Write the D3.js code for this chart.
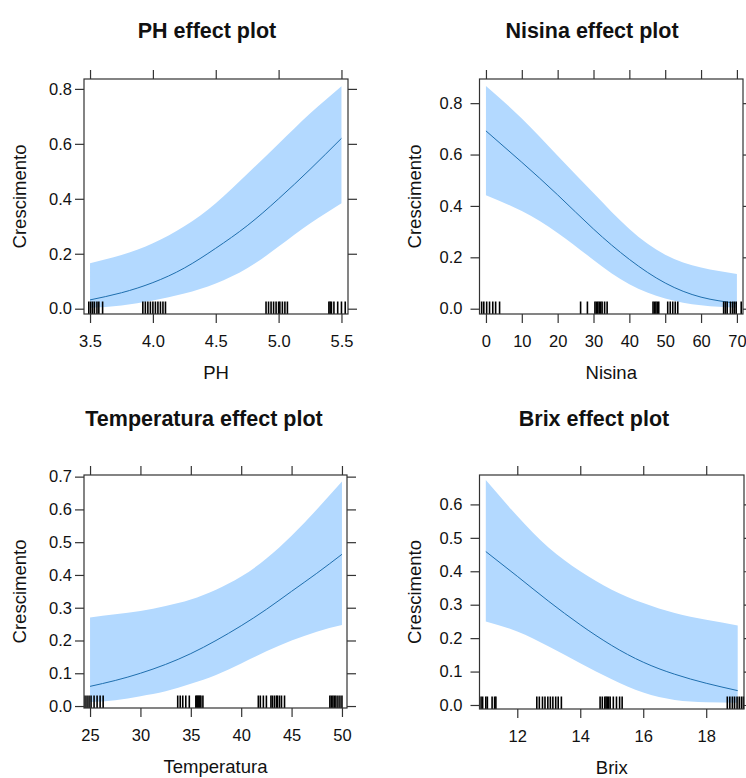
<!DOCTYPE html>
<html><head><meta charset="utf-8">
<script src="https://cdn.jsdelivr.net/npm/d3@7"></script>
<style>
body{margin:0;background:#fff}
svg{display:block}
text{font-family:Arial,"Liberation Sans",sans-serif;fill:#111}
</style>
</head><body>
<svg id="chart" width="746" height="778"></svg>
<script>
// ---------- data ----------
const phGrid  = [3.5, 3.75, 4.0, 4.25, 4.5, 4.75, 5.0, 5.25, 5.5];
const phFit   = [0.032, 0.058, 0.095, 0.148, 0.22, 0.302, 0.40, 0.507, 0.62];
const phUpper = [0.165, 0.195, 0.238, 0.30, 0.384, 0.49, 0.60, 0.71, 0.81];
const phLower = [0.003, 0.012, 0.03, 0.055, 0.092, 0.147, 0.226, 0.31, 0.384];
const phRug   = [3.49, 3.505, 3.52, 3.535, 3.555, 3.57, 3.60, 3.92, 3.94, 3.96, 3.98, 4.00, 4.02, 4.04, 4.06, 4.08, 4.10,
                 4.90, 4.92, 4.94, 4.96, 4.98, 5.00, 5.01, 5.03, 5.05, 5.07, 5.40, 5.41, 5.42, 5.44, 5.47, 5.50, 5.53];
const phXTicks = [3.5, 4.0, 4.5, 5.0, 5.5];
const phYTicks = [0.0, 0.2, 0.4, 0.6, 0.8];

const nisGrid  = [0, 10, 20, 30, 40, 50, 60, 70];
const nisFit   = [0.692, 0.57, 0.443, 0.31, 0.192, 0.10, 0.045, 0.021];
const nisUpper = [0.867, 0.74, 0.595, 0.45, 0.31, 0.21, 0.16, 0.135];
const nisLower = [0.442, 0.38, 0.295, 0.19, 0.095, 0.04, 0.013, 0.004];
const nisRug   = [-1.2, -0.6, 0.2, 1.0, 1.9, 2.7, 3.8, 26.4, 28.3, 30.4, 30.8, 31.2, 31.6, 32.0, 32.4, 33.1, 33.8,
                  46.6, 47.0, 47.4, 47.8, 48.2, 50.7, 51.4, 52.1, 52.8, 53.5, 66.3, 66.8, 67.3, 68.2, 68.8, 69.3, 69.8, 71.2];
const nisXTicks = [0, 10, 20, 30, 40, 50, 60, 70];
const nisYTicks = [0.0, 0.2, 0.4, 0.6, 0.8];

const tempGrid  = [25, 27.5, 30, 32.5, 35, 37.5, 40, 42.5, 45, 47.5, 50];
const tempFit   = [0.06, 0.078, 0.1, 0.127, 0.16, 0.2, 0.245, 0.295, 0.35, 0.405, 0.463];
const tempUpper = [0.27, 0.28, 0.29, 0.305, 0.325, 0.355, 0.395, 0.45, 0.52, 0.60, 0.685];
const tempLower = [0.012, 0.018, 0.03, 0.045, 0.068, 0.095, 0.13, 0.167, 0.2, 0.227, 0.247];
const tempRug   = [24.5, 24.7, 24.9, 25.1, 25.4, 25.7, 26.0, 26.3, 33.7, 33.95, 34.2, 34.5, 34.85, 35.5, 35.6, 35.7, 35.8, 35.9, 36.0, 36.2,
                   41.7, 41.9, 42.2, 42.5, 42.95, 43.1, 43.3, 43.5, 43.6, 43.8, 44.0, 44.3, 48.8, 48.95, 49.1, 49.25, 49.4, 49.6, 49.8, 50.0];
const tempXTicks = [25, 30, 35, 40, 45, 50];
const tempYTicks = [0.0, 0.1, 0.2, 0.3, 0.4, 0.5, 0.6, 0.7];

const brixGrid  = [11, 12, 13, 14, 15, 16, 17, 18, 19];
const brixFit   = [0.459, 0.385, 0.31, 0.24, 0.178, 0.128, 0.092, 0.065, 0.043];
const brixUpper = [0.673, 0.565, 0.47, 0.40, 0.345, 0.305, 0.275, 0.255, 0.238];
const brixLower = [0.25, 0.22, 0.175, 0.125, 0.077, 0.037, 0.015, 0.008, 0.007];
const brixRug   = [10.85, 10.9, 11.0, 11.05, 11.2, 11.28, 11.32, 12.62, 12.7, 12.8, 12.88, 12.97, 13.05, 13.13, 13.22, 13.3, 13.4,
                   14.63, 14.7, 14.78, 14.82, 14.86, 14.9, 14.95, 15.05, 15.15, 15.25, 15.33,
                   18.67, 18.75, 18.83, 18.9, 18.98, 19.05, 19.12, 19.18];
const brixXTicks = [12, 14, 16, 18];
const brixYTicks = [0.0, 0.1, 0.2, 0.3, 0.4, 0.5, 0.6];

const yLabel = "Crescimento";

// ---------- layout ----------
const panels = [
  {title:"PH effect plot", xlab:"PH", grid:phGrid, fit:phFit, lo:phLower, hi:phUpper, rug:phRug,
   xt:phXTicks, yt:phYTicks, xf:d3.format(".1f"), f:{l:84,r:348,t:79,b:314},
   xd:[3.452,5.552], yd:[-0.0193,0.836], tx:207, ty:38, lpad:3, ylx:26},
  {title:"Nisina effect plot", xlab:"Nisina", grid:nisGrid, fit:nisFit, lo:nisLower, hi:nisUpper, rug:nisRug,
   xt:nisXTicks, yt:nisYTicks, xf:d3.format("d"), f:{l:479.5,r:743,t:79,b:314},
   xd:[-1.8,71.7], yd:[-0.0206,0.894], tx:592, ty:38, lpad:8, ylx:421},
  {title:"Temperatura effect plot", xlab:"Temperatura", grid:tempGrid, fit:tempFit, lo:tempLower, hi:tempUpper, rug:tempRug,
   xt:tempXTicks, yt:tempYTicks, xf:d3.format("d"), f:{l:84,r:347,t:475,b:708},
   xd:[24.4,50.5], yd:[-0.006,0.705], tx:204, ty:426, lpad:3, ylx:26},
  {title:"Brix effect plot", xlab:"Brix", grid:brixGrid, fit:brixFit, lo:brixLower, hi:brixUpper, rug:brixRug,
   xt:brixXTicks, yt:brixYTicks, xf:d3.format("d"), f:{l:479.5,r:744,t:475,b:709},
   xd:[10.8,19.2], yd:[-0.012,0.688], tx:594, ty:426, lpad:8, ylx:421}
];

const svg = d3.select("#chart");
const frameCol = "#333";
const TICK = 9;

panels.forEach(p => {
  const g = svg.append("g");
  const x = d3.scaleLinear().domain(p.xd).range([p.f.l, p.f.r]);
  const y = d3.scaleLinear().domain(p.yd).range([p.f.b, p.f.t]);
  const pts = p.grid.map((v,i) => ({x:v, fit:p.fit[i], lo:p.lo[i], hi:p.hi[i]}));

  // confidence band
  g.append("path").datum(pts)
    .attr("fill", "#b3d9ff")
    .attr("d", d3.area().x(d=>x(d.x)).y0(d=>y(d.lo)).y1(d=>y(d.hi)).curve(d3.curveNatural));
  // fitted line
  g.append("path").datum(pts)
    .attr("fill", "none").attr("stroke", "#1f6fae").attr("stroke-width", 1)
    .attr("d", d3.line().x(d=>x(d.x)).y(d=>y(d.fit)).curve(d3.curveNatural));
  // rug
  g.append("g").selectAll("line").data(p.rug).join("line")
    .attr("x1", d=>x(d)).attr("x2", d=>x(d))
    .attr("y1", p.f.b).attr("y2", p.f.b - 12.5)
    .attr("stroke", "#000").attr("stroke-width", 1.6);
  // frame
  g.append("rect").attr("x", p.f.l).attr("y", p.f.t)
    .attr("width", p.f.r - p.f.l).attr("height", p.f.b - p.f.t)
    .attr("fill", "none").attr("stroke", frameCol).attr("stroke-width", 1.2);

  const styleAxis = (sel) => {
    sel.select(".domain").remove();
    sel.selectAll(".tick line").attr("stroke", frameCol).attr("stroke-width", 1.2);
    sel.selectAll(".tick text").attr("font-size", 16.5).attr("fill", "#111");
  };
  g.append("g").attr("transform", `translate(0,${p.f.b})`)
    .call(d3.axisBottom(x).tickValues(p.xt).tickSize(TICK).tickPadding(12).tickFormat(p.xf)).call(styleAxis);
  g.append("g").attr("transform", `translate(0,${p.f.t})`)
    .call(d3.axisTop(x).tickValues(p.xt).tickSize(TICK).tickFormat("")).call(styleAxis);
  g.append("g").attr("transform", `translate(${p.f.l},0)`)
    .call(d3.axisLeft(y).tickValues(p.yt).tickSize(TICK).tickPadding(p.lpad).tickFormat(d3.format(".1f"))).call(styleAxis);
  g.append("g").attr("transform", `translate(${p.f.r},0)`)
    .call(d3.axisRight(y).tickValues(p.yt).tickSize(TICK).tickFormat("")).call(styleAxis);

  // titles and axis labels
  g.append("text").attr("x", p.tx).attr("y", p.ty).attr("text-anchor", "middle")
    .attr("font-size", 21.5).attr("font-weight", "bold").text(p.title);
  g.append("text").attr("x", (p.f.l + p.f.r)/2).attr("y", p.f.b + 65).attr("text-anchor", "middle")
    .attr("font-size", 18.5).text(p.xlab);
  g.append("text").attr("transform", `translate(${p.ylx},${(p.f.t + p.f.b)/2}) rotate(-90)`)
    .attr("text-anchor", "middle").attr("font-size", 18.5).text(yLabel);
});
</script>
</body></html>
